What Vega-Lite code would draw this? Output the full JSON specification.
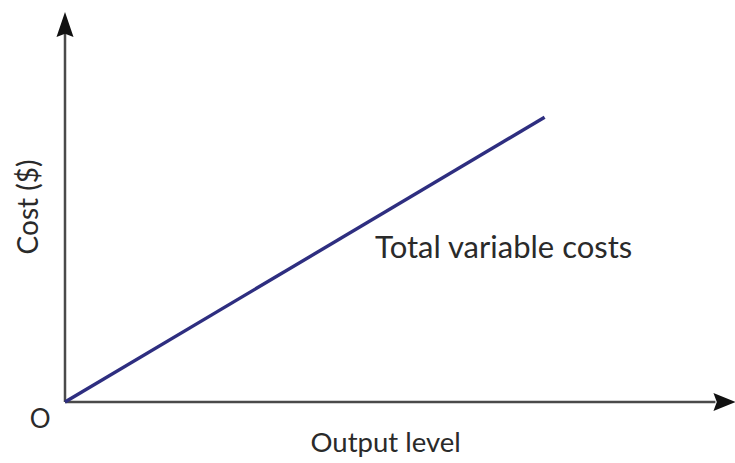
{
  "$schema": "https://vega.github.io/schema/vega-lite/v6.json",
  "width": 657,
  "height": 390,
  "autosize": {"type": "none"},
  "padding": {"left": 65, "top": 12, "right": 13, "bottom": 61},
  "background": "white",
  "config": {"view": {"stroke": null}},
  "datasets": {
    "axes": [
      {"x": 0, "y": 0, "x2": 99, "y2": 0},
      {"x": 0, "y": 0, "x2": 0, "y2": 96}
    ],
    "cost": [
      {"output": 0, "cost": 0},
      {"output": 73, "cost": 73}
    ],
    "arrows": [
      {"x": 0, "y": 96.8, "dir": "up"},
      {"x": 100.4, "y": 0, "dir": "right"}
    ],
    "centered": [
      {"x": 48.8, "y": -12.8, "text": "Output level", "size": 27.5},
      {"x": -3.8, "y": -6.7, "text": "O", "size": 26}
    ]
  },
  "layer": [
    {
      "data": {"name": "axes"},
      "mark": {"type": "rule", "color": "#4a4a4a", "strokeWidth": 2.5},
      "encoding": {
        "x": {"field": "x", "type": "quantitative", "scale": {"domain": [0, 100], "nice": false, "zero": false}, "axis": null},
        "y": {"field": "y", "type": "quantitative", "scale": {"domain": [0, 100], "nice": false, "zero": false}, "axis": null},
        "x2": {"field": "x2"},
        "y2": {"field": "y2"}
      }
    },
    {
      "data": {"name": "arrows"},
      "transform": [{"filter": "datum.dir === 'up'"}],
      "mark": {"type": "point", "filled": true, "color": "#111111", "opacity": 1, "size": 625, "shape": "M0,-1L0.68,1L0,0.75L-0.68,1Z"},
      "encoding": {
        "x": {"field": "x", "type": "quantitative", "axis": null},
        "y": {"field": "y", "type": "quantitative", "axis": null}
      }
    },
    {
      "data": {"name": "arrows"},
      "transform": [{"filter": "datum.dir === 'right'"}],
      "mark": {"type": "point", "filled": true, "color": "#111111", "opacity": 1, "size": 500, "shape": "M1,0L-1,0.8L-0.7,0L-1,-0.8Z"},
      "encoding": {
        "x": {"field": "x", "type": "quantitative", "axis": null},
        "y": {"field": "y", "type": "quantitative", "axis": null}
      }
    },
    {
      "data": {"name": "cost"},
      "mark": {"type": "line", "color": "#2e2e80", "strokeWidth": 3.4},
      "encoding": {
        "x": {"field": "output", "type": "quantitative", "axis": null},
        "y": {"field": "cost", "type": "quantitative", "axis": null}
      }
    },
    {
      "data": {"values": [{"x": 47.2, "y": 36.9, "text": "Total variable costs"}]},
      "mark": {"type": "text", "font": "Lato", "fontSize": 31, "color": "#2a2a2a", "baseline": "alphabetic", "align": "left"},
      "encoding": {
        "x": {"field": "x", "type": "quantitative", "axis": null},
        "y": {"field": "y", "type": "quantitative", "axis": null},
        "text": {"field": "text"}
      }
    },
    {
      "data": {"name": "centered"},
      "mark": {"type": "text", "font": "Lato", "color": "#2a2a2a", "baseline": "alphabetic", "align": "center"},
      "encoding": {
        "x": {"field": "x", "type": "quantitative", "axis": null},
        "y": {"field": "y", "type": "quantitative", "axis": null},
        "text": {"field": "text"},
        "size": {"field": "size", "type": "quantitative", "scale": null}
      }
    },
    {
      "data": {"values": [{"x": -5.3, "y": 50, "text": "Cost ($)"}]},
      "mark": {"type": "text", "font": "Lato", "fontSize": 28, "color": "#2a2a2a", "angle": 270, "baseline": "middle", "align": "center"},
      "encoding": {
        "x": {"field": "x", "type": "quantitative", "axis": null},
        "y": {"field": "y", "type": "quantitative", "axis": null},
        "text": {"field": "text"}
      }
    }
  ]
}
